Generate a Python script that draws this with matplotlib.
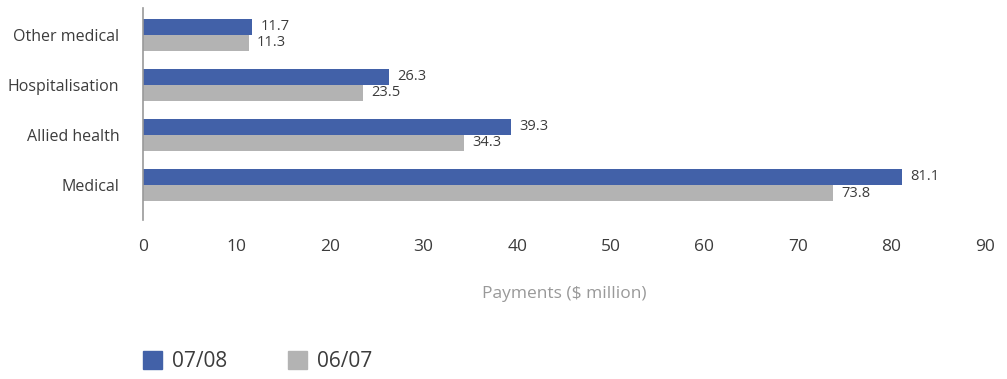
import matplotlib.pyplot as plt
import numpy as np
from matplotlib.patches import Patch

plt.rcParams['font.family'] = ['Open Sans', 'DejaVu Sans']

categories = ['Medical', 'Allied health', 'Hospitalisation', 'Other medical']
payments_0708 = [81.1, 39.3, 26.3, 11.7]
payments_0607 = [73.8, 34.3, 23.5, 11.3]
series_names = ['07/08', '06/07']

blue = '#4261a8'
grey = '#b3b3b3'
text_col = '#3c3c3c'

fig = plt.figure(figsize=(10.07, 3.79), dpi=100)
ax = fig.add_axes([0.142, 0.4195, 0.836, 0.5595])

y = np.arange(len(categories))
h = 0.32
ax.barh(y + h / 2, payments_0708, height=h, color=blue)
ax.barh(y - h / 2, payments_0607, height=h, color=grey)

for yi, v in zip(y, payments_0708):
    ax.text(v + 0.9, yi + h / 2, f'{v:.1f}', va='center', ha='left', fontsize=10.5, color=text_col)
for yi, v in zip(y, payments_0607):
    ax.text(v + 0.9, yi - h / 2, f'{v:.1f}', va='center', ha='left', fontsize=10.5, color=text_col)

ax.set_xlim(0, 90)
ax.set_ylim(-0.7, 3.54)
ax.set_xticks(np.arange(0, 91, 10))
ax.set_yticks(y)
ax.set_yticklabels(categories)
ax.tick_params(axis='both', length=0, colors=text_col, labelsize=11.5)
ax.tick_params(axis='x', pad=14, labelsize=12.5)
ax.tick_params(axis='y', pad=17)
for s in ['top', 'right', 'bottom']:
    ax.spines[s].set_visible(False)
ax.spines['left'].set_color('#999999')
ax.spines['left'].set_linewidth(1.2)

ax.set_xlabel('Payments ($ million)', color='#999999', fontsize=12.5, labelpad=22)

handles = [Patch(color=blue), Patch(color=grey)]
fig.legend(handles, series_names, loc='lower left', bbox_to_anchor=(0.142, 0.018), ncol=2,
           frameon=False, fontsize=15, handlelength=0.9, handleheight=0.9,
           columnspacing=2.9, handletextpad=0.5, borderpad=0, borderaxespad=0,
           labelcolor=text_col)

fig.savefig('out.png', dpi=100)
